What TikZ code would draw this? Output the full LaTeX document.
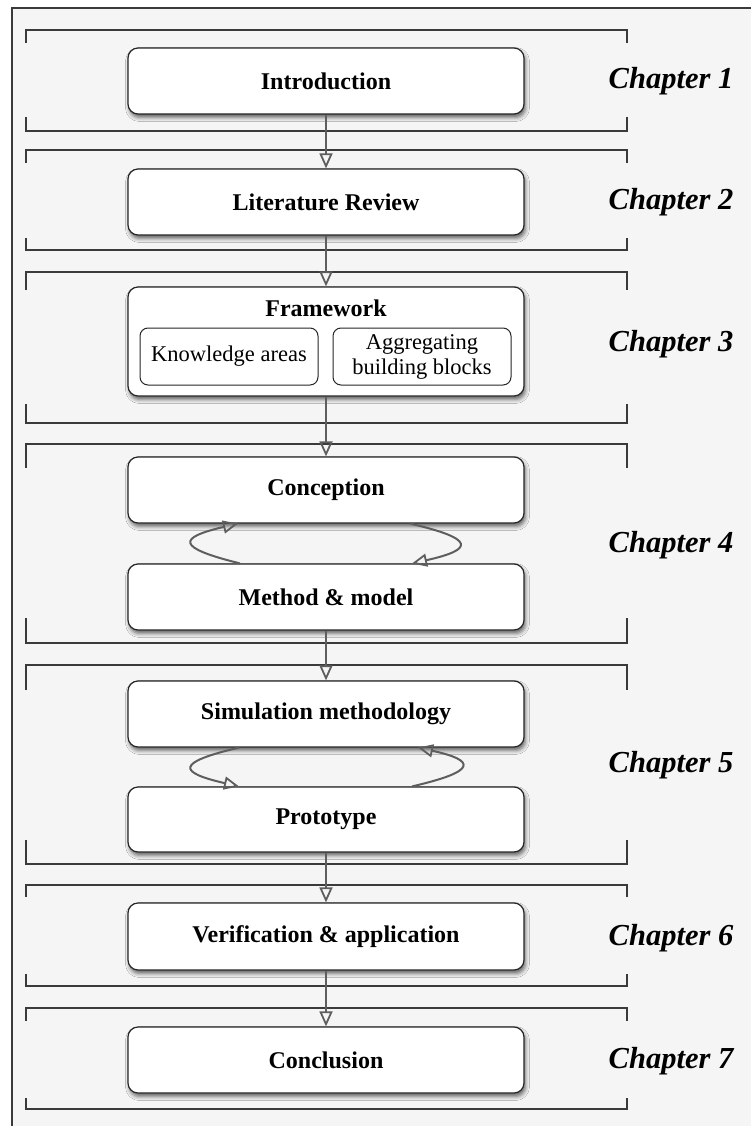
\documentclass[tikz,border=0pt]{standalone}
\usepackage{fontspec}
\setmainfont{Liberation Serif}
\usetikzlibrary{arrows.meta,shadows.blur}
\definecolor{panelbg}{HTML}{F5F5F5}
\definecolor{frameline}{HTML}{3A3A3A}
\definecolor{flowgray}{HTML}{5E5E5E}

\begin{document}
\begin{tikzpicture}[x=1pt,y=-1pt,
  chapbox/.style={draw=black!85, line width=1.2pt, fill=white, rounded corners=10pt,
    minimum width=396pt, minimum height=66pt, inner sep=0pt,
    font=\fontsize{24}{26}\selectfont\bfseries,
    blur shadow={shadow xshift=1.5pt, shadow yshift=-3.5pt, shadow blur radius=4pt, shadow opacity=60}},
  subbox/.style={draw=black!85, line width=1pt, fill=white, rounded corners=8pt,
    minimum width=178pt, minimum height=57pt, inner sep=0pt, align=center,
    font=\fontsize{22.5}{25}\selectfont},
  chaplabel/.style={font=\fontsize{30.5}{32}\selectfont\bfseries\itshape, inner sep=0pt, anchor=base},
  bracket/.style={draw=frameline, line width=1.2pt},
  flow/.style={draw=flowgray, line width=2pt,
    -{Triangle[open, length=15pt, width=13pt, line width=1.8pt]}},
]
\useasboundingbox (0,0) rectangle (751,1126);

% panel
\fill[panelbg] (12,8) rectangle (770,1140);
\draw[frameline, line width=1.2pt] (12,8) rectangle (770,1140);

% chapter brackets: top and bottom
\foreach \ya/\ta/\yb/\tb in {30/13/131/14, 150/13/250/12, 272/18/423/19, 444/24/643/25,
                             665/25/864/24, 885/12/986/12, 1008/13/1109/11}{
  \draw[bracket] (26,\ya+\ta) -- (26,\ya) -- (627,\ya) -- (627,\ya+\ta);
  \draw[bracket] (26,\yb-\tb) -- (26,\yb) -- (627,\yb) -- (627,\yb-\tb);
}

% chapter contents
\node[chapbox] (intro) at (326,81) {Introduction};
\node[chapbox] (lit) at (326,202) {Literature Review};
\node[chapbox, minimum height=109pt] (frame) at (326,341.5) {};
\node[font=\fontsize{24}{26}\selectfont\bfseries, inner sep=0pt] (frametitle) at (326,308) {Framework};
\node[subbox] (know) at (229,356.5) {Knowledge areas};
\node[subbox] (aggr) at (422,356.5) {Aggregating\\building blocks};
\node[chapbox] (concept) at (326,490) {Conception};
\node[chapbox] (method) at (326,597) {Method \& model};
\node[chapbox] (sim) at (326,714) {Simulation methodology};
\node[chapbox, minimum height=65pt] (proto) at (326,819.5) {Prototype};
\node[chapbox, minimum height=67pt] (verif) at (326,936.5) {Verification \& application};
\node[chapbox] (concl) at (326,1060) {Conclusion};

% chapter labels
\node[chaplabel] (c1) at (671,89) {Chapter 1};
\node[chaplabel] (c2) at (671,209) {Chapter 2};
\node[chaplabel] (c3) at (671,351) {Chapter 3};
\node[chaplabel] (c4) at (671,552) {Chapter 4};
\node[chaplabel] (c5) at (671,772) {Chapter 5};
\node[chaplabel] (c6) at (671,945) {Chapter 6};
\node[chaplabel] (c7) at (671,1068) {Chapter 7};

% flow between chapters
\draw[flow] (intro.south) -- (lit.north);
\draw[flow] (lit.south) -- (frame.north);
\draw[flow] (frame.south) -- (concept.north);
\draw[flow] (method.south) -- (sim.north);
\draw[flow] (proto.south) -- (verif.north);
\draw[flow] (verif.south) -- (concl.north);

% iteration loops
\draw[flow] ([xshift=-86pt]method.north) .. controls +(-65,-16) and +(-60,14) .. ([xshift=-88pt]concept.south);
\draw[flow] ([xshift=84pt]concept.south) .. controls +(65,15) and +(63,-14) .. ([xshift=86pt]method.north);
\draw[flow] ([xshift=-87pt]sim.south) .. controls +(-64,15) and +(-61,-14) .. ([xshift=-87pt]proto.north);
\draw[flow] ([xshift=86pt]proto.north) .. controls +(65,-15) and +(59,13) .. ([xshift=92pt]sim.south);
\end{tikzpicture}
\end{document}
